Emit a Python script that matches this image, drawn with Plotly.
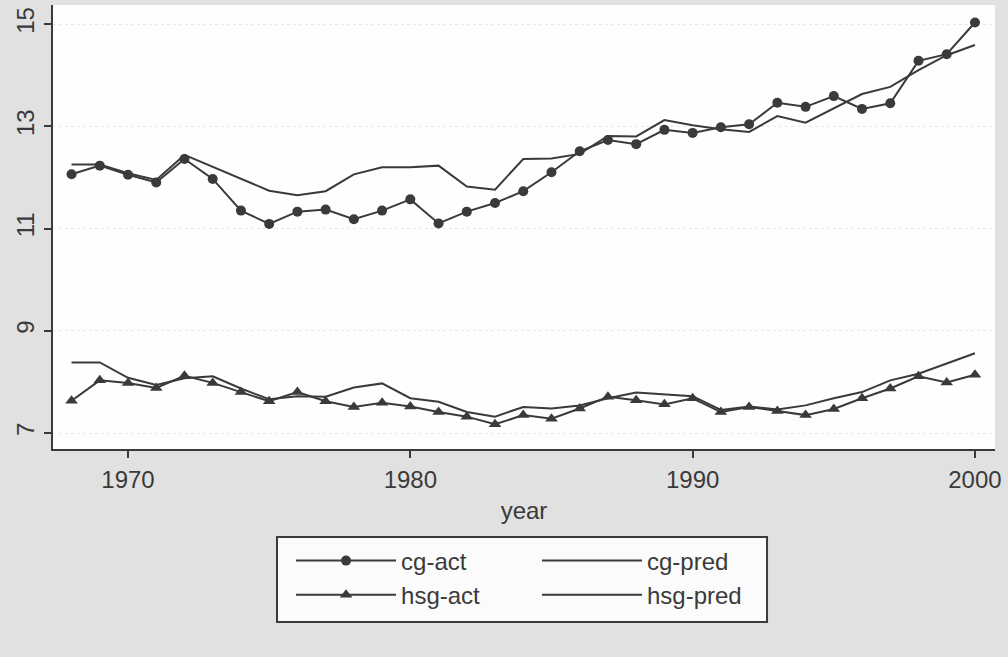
import plotly.graph_objects as go

years = list(range(1968, 2001))

cg_act = [12.06, 12.23, 12.05, 11.90, 12.36, 11.97, 11.35, 11.09, 11.33, 11.37,
          11.18, 11.35, 11.57, 11.10, 11.33, 11.50, 11.73, 12.10, 12.51, 12.73,
          12.65, 12.93, 12.87, 12.98, 13.04, 13.46, 13.38, 13.59, 13.34, 13.45,
          14.28, 14.41, 15.03]
cg_pred = [12.25, 12.25, 12.08, 11.95, 12.44, 12.21, 11.97, 11.74, 11.65, 11.73,
           12.06, 12.20, 12.20, 12.23, 11.82, 11.76, 12.36, 12.37, 12.46, 12.81,
           12.80, 13.12, 13.02, 12.94, 12.89, 13.20, 13.07, 13.35, 13.63, 13.77,
           14.10, 14.39, 14.59]
hsg_act = [7.63, 8.03, 7.98, 7.88, 8.12, 7.98, 7.80, 7.62, 7.80, 7.62,
           7.51, 7.59, 7.52, 7.41, 7.32, 7.17, 7.35, 7.28, 7.48, 7.71,
           7.64, 7.56, 7.68, 7.41, 7.51, 7.43, 7.35, 7.47, 7.68, 7.87,
           8.11, 7.99, 8.14]
hsg_pred = [8.38, 8.38, 8.08, 7.94, 8.07, 8.11, 7.87, 7.66, 7.72, 7.71,
            7.89, 7.97, 7.68, 7.61, 7.41, 7.32, 7.51, 7.48, 7.54, 7.68,
            7.79, 7.75, 7.72, 7.45, 7.52, 7.46, 7.54, 7.68, 7.80, 8.03,
            8.16, 8.36, 8.56]

x_ticks = [1970, 1980, 1990, 2000]
y_ticks = [7, 9, 11, 13, 15]

INK = "#3a3a3a"
FONT = "Liberation Sans, Arial, sans-serif"

fig = go.Figure()
fig.add_trace(go.Scatter(x=years, y=cg_act, name="cg-act", mode="lines+markers",
                         line=dict(color=INK, width=2),
                         marker=dict(symbol="circle", size=10, color=INK),
                         legend="legend", legendgroup="a"))
fig.add_trace(go.Scatter(x=years, y=hsg_act, name="hsg-act", mode="lines+markers",
                         line=dict(color=INK, width=2),
                         marker=dict(symbol="triangle-up", size=11, color=INK),
                         legend="legend", legendgroup="b"))
fig.add_trace(go.Scatter(x=years, y=cg_pred, name="cg-pred", mode="lines",
                         line=dict(color=INK, width=2),
                         legend="legend2", legendgroup="c"))
fig.add_trace(go.Scatter(x=years, y=hsg_pred, name="hsg-pred", mode="lines",
                         line=dict(color=INK, width=2),
                         legend="legend2", legendgroup="d"))

legend_common = dict(
    orientation="v", xanchor="left", yanchor="top", y=-0.2016,
    bgcolor="rgba(0,0,0,0)", borderwidth=0,
    font=dict(family=FONT, size=24, color=INK),
    itemwidth=100, tracegroupgap=6, traceorder="normal",
)

fig.update_layout(
    width=1008, height=657,
    margin=dict(l=53, r=13, t=5, b=208),
    paper_bgcolor="#e1e1e1",
    plot_bgcolor="#fefefe",
    font=dict(family=FONT, size=24, color=INK),
    showlegend=True,
    legend=dict(x=0.2527, **legend_common),
    legend2=dict(x=0.5138, **legend_common),
    xaxis=dict(
        range=[1967.343, 2000.71], tickvals=x_ticks, ticks="outside", ticklen=7,
        tickwidth=2, tickcolor=INK, showline=True, linecolor=INK, linewidth=2,
        showgrid=False, zeroline=False, ticklabelstandoff=1,
        title=dict(text="year", standoff=10, font=dict(size=24)),
        tickfont=dict(size=24),
    ),
    yaxis=dict(
        range=[6.687, 15.372], tickvals=y_ticks, ticks="outside", ticklen=7,
        tickwidth=2, tickcolor=INK, showline=True, linecolor=INK, linewidth=2,
        showgrid=True, gridcolor="#e8e8e8", griddash="dot", gridwidth=1,
        zeroline=False, tickangle=-90, tickfont=dict(size=24),
    ),
    shapes=[dict(type="rect", xref="paper", yref="paper",
                 x0=0.2378, x1=0.758, y0=-0.198, y1=-0.3896,
                 line=dict(color=INK, width=2), fillcolor="#fbfbfb", layer="below")],
)

fig.write_html("out.html", config={"displayModeBar": False},
               post_script="document.body.style.margin='0';document.body.style.background='#e1e1e1';")
